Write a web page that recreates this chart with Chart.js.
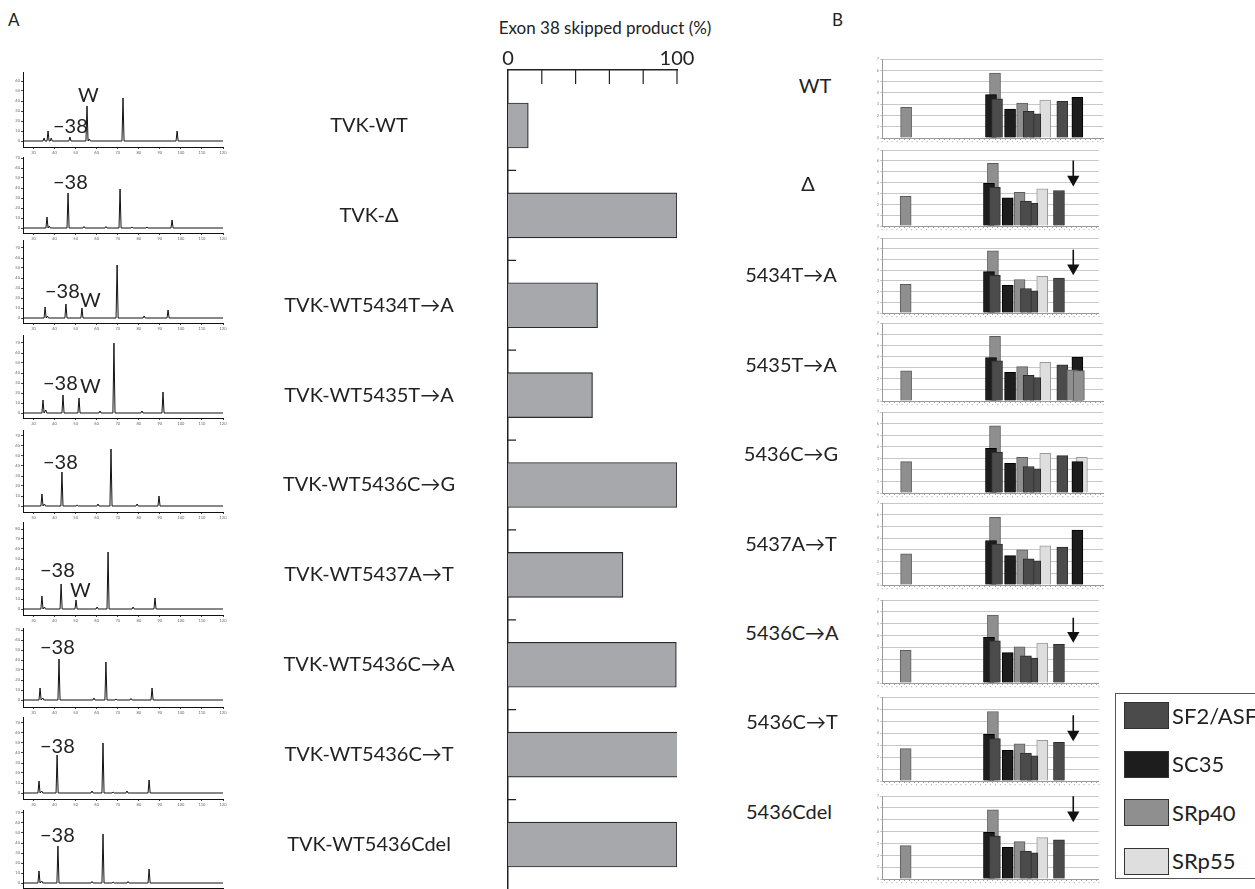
<!DOCTYPE html>
<html>
<head>
<meta charset="utf-8">
<title>Exon 38 skipping and ESE scores</title>
<script src="https://cdn.jsdelivr.net/npm/chart.js@4.4.0/dist/chart.umd.min.js"></script>
<style>
  body { margin: 0; background: #fff; }
  #page { position: relative; width: 1255px; height: 889px; overflow: hidden; background: #fff;
          font-family: Lato, 'Noto Sans', 'DejaVu Sans', sans-serif; color: #222; }
  #page canvas { position: absolute; }
  .txt { position: absolute; white-space: nowrap; line-height: 1; transform: translateY(-50%); }
  .txt.mid { transform: translate(-50%, -50%); }
  #legend { position: absolute; left: 1115px; top: 693px; width: 150px; height: 186px; border: 1px solid #555; box-sizing: border-box; }
  .sw { position: absolute; left: 8px; width: 45px; height: 27px; box-sizing: border-box; border: 1px solid #333; }
</style>
</head>
<body>
<div id="page"></div>
<script>
// ---- panel A, bar chart: exon 38 skipped product (%)
const constructs = ['TVK-WT', 'TVK-\u0394', 'TVK-WT5434T\u2192A', 'TVK-WT5435T\u2192A', 'TVK-WT5436C\u2192G',
                    'TVK-WT5437A\u2192T', 'TVK-WT5436C\u2192A', 'TVK-WT5436C\u2192T', 'TVK-WT5436Cdel'];
const skipped = [12, 100, 53, 50, 100, 68, 99.6, 100.6, 100];
const skipTicks = [0, 100];

// ---- panel A, electropherograms: peaks as [size, height]
const traceWT = [[35.0, 3], [36.9, 10], [38.4, 3], [47.3, 4], [55.4, 35], [56.5, 2], [72.5, 43], [98.2, 10]];
const traceDelta = [[36.4, 11], [37.5, 2], [46.4, 35], [54.0, 1.5], [64.4, 1.5], [71.1, 39], [76.8, 1], [83.9, 1], [95.8, 8]];
const trace5434 = [[35.5, 11], [36.6, 2], [45.4, 14], [53.0, 10], [69.7, 53], [82.5, 2], [93.9, 8]];
const trace5435 = [[34.5, 13], [35.8, 3], [44.0, 18], [51.6, 15], [61.6, 2], [68.2, 70], [81.5, 2], [91.5, 21]];
const trace5436G = [[34.0, 12], [35.2, 2], [43.5, 34], [50.7, 1], [60.6, 2], [66.8, 57], [79.2, 2], [89.6, 10]];
const trace5437T = [[34.0, 13], [35.2, 2], [43.1, 25], [50.2, 9], [60.2, 2], [65.4, 57], [77.3, 2], [87.7, 11]];
const trace5436A = [[33.1, 12], [34.4, 2], [42.1, 41], [58.7, 2], [64.4, 38], [69.2, 1], [76.3, 1.5], [86.3, 12]];
const trace5436T = [[32.6, 12], [33.9, 2], [41.2, 38], [57.8, 2], [63.0, 50], [67.8, 1], [74.4, 2], [84.9, 13]];
const trace5436del = [[32.6, 12], [33.9, 2], [41.6, 37], [57.8, 1.5], [63.0, 49], [67.8, 1], [74.9, 1.5], [84.9, 14]];
const traces = [traceWT, traceDelta, trace5434, trace5435, trace5436G, trace5437T, trace5436A, trace5436T, trace5436del];

// ---- panel B: ESE scores per construct (rows follow bLabels)
const bLabels = ['WT', '\u0394', '5434T\u2192A', '5435T\u2192A', '5436C\u2192G', '5437A\u2192T', '5436C\u2192A', '5436C\u2192T', '5436Cdel'];
const factors = ['SF2/ASF', 'SC35', 'SRp40', 'SRp55'];
const sf2Pos = [22.9, 30.5, 29.2, 35.9];
const sf2Scores = [
  [3.48, 2.15, 2.36, 3.25], [3.57, 2.08, 2.29, 3.27], [3.51, 2.08, 2.29, 3.27],
  [3.60, 2.10, 2.31, 3.24], [3.51, 2.09, 2.29, 3.23], [3.49, 2.06, 2.23, 3.23],
  [3.56, 2.10, 2.29, 3.26], [3.53, 2.10, 2.32, 3.23], [3.62, 2.20, 2.36, 3.30]];
const sc35Pos = [21.7, 25.5, 38.9];
const sc35Scores = [
  [3.84, 2.57, 3.60], [3.93, 2.59, null], [3.87, 2.59, null],
  [3.90, 2.58, 3.94], [3.86, 2.57, 2.71], [3.80, 2.51, 4.69],
  [3.85, 2.56, null], [3.90, 2.56, null], [3.94, 2.68, null]];
const srp40Pos = [4.8, 22.5, 27.9, 37.9, 39.2];
const srp40Scores = [
  [2.71, 5.76, 3.10, null, null], [2.74, 5.77, 3.10, null, null], [2.68, 5.80, 3.13, null, null],
  [2.70, 5.80, 3.09, 2.79, 2.73], [2.71, 5.80, 3.09, null, null], [2.66, 5.77, 3.00, null, null],
  [2.75, 5.74, 3.05, null, null], [2.70, 5.80, 3.10, null, null], [2.82, 5.84, 3.16, null, null]];
const srp55Pos = [32.5, 39.8];
const srp55Scores = [
  [3.37, null], [3.42, null], [3.42, null], [3.48, null], [3.43, 3.09],
  [3.34, null], [3.37, null], [3.40, null], [3.49, null]];
// lost-site arrows: shaft from / to (score units)
const arrowFrom = [null, 6.04, 5.92, null, null, null, 5.51, 5.48, 6.99];
const arrowTo = [null, 4.30, 4.20, null, null, null, 4.00, 3.90, 5.40];
const arrowPos = 38.8;

// ---- layout
const fontFamily = "Lato, 'Noto Sans', 'DejaVu Sans', sans-serif";
const traceBoxes = [[72, 141, 147], [157, 228, 233], [240, 318, 323], [335, 413, 418], [430, 506, 512],
                    [522, 609, 615], [628, 700, 707], [717, 793, 799], [810, 883, 888]];
const traceNotes = [
  [['W', 78, 93.5], ['\u221238', 53, 124.5]],
  [['\u221238', 53, 180.5]],
  [['\u221238', 45, 289.5], ['W', 80, 298.5]],
  [['\u221238', 43, 381.5], ['W', 80, 385]],
  [['\u221238', 43, 460.5]],
  [['\u221238', 40, 568.5], ['W', 70, 589]],
  [['\u221238', 40, 645.5]],
  [['\u221238', 40, 744.5]],
  [['\u221238', 40, 833.5]]];
const bBoxes = [[59, 138], [147, 226], [235, 313], [323, 401], [412, 493], [503, 585], [597, 683], [694, 781], [793, 879]];
const bLabelPos = [[815, 85], [808, 183], [791, 274], [791, 364], [791, 453], [791, 543], [792, 632], [792, 721], [789, 811]];
const colors = {
  'SF2/ASF': ['#4b4b4b', '#2c2c2c'],
  'SC35': ['#1d1d1d', '#000000'],
  'SRp40': ['#8f8f8f', '#5c5c5c'],
  'SRp55': ['#dedede', '#9a9a9a']
};

Chart.defaults.font.family = fontFamily;
Chart.defaults.color = '#222';
Chart.defaults.animation = false;
Chart.defaults.responsive = false;
Chart.defaults.plugins.legend.display = false;
Chart.defaults.plugins.tooltip.enabled = false;

const page = document.getElementById('page');

function addCanvas(left, top, width, height) {
  const c = document.createElement('canvas');
  c.width = width; c.height = height;
  c.style.left = left + 'px'; c.style.top = top + 'px';
  c.style.width = width + 'px'; c.style.height = height + 'px';
  page.appendChild(c);
  return c;
}

function addText(str, x, y, size, centered) {
  const d = document.createElement('div');
  d.className = centered ? 'txt mid' : 'txt';
  d.textContent = str;
  d.style.left = x + 'px'; d.style.top = y + 'px'; d.style.fontSize = size + 'px';
  page.appendChild(d);
  return d;
}

// scales keep their own edge padding out of the layout
const noPad = s => { s.paddingLeft = 0; s.paddingRight = 0; s.paddingTop = 0; s.paddingBottom = 0; };

addText('A', 8, 19, 17);
addText('B', 832, 19, 17);
addText('Exon 38 skipped product (%)', 605, 27, 17, true);

// electropherograms
traces.forEach((peaks, i) => {
  const [top, base, axis] = traceBoxes[i];
  const c = addCanvas(0, top - 4, 228, axis - top + 14);
  const pts = [{x: 25, y: 0}];
  peaks.forEach(([x, h]) => { pts.push({x: x - 0.5, y: 0}, {x: x, y: h}, {x: x + 0.5, y: 0}); });
  pts.push({x: 120, y: 0});
  new Chart(c, {
    type: 'line',
    data: { datasets: [{ data: pts, borderColor: '#111', borderWidth: 1, pointRadius: 0, tension: 0 }] },
    options: {
      layout: { padding: { top: 4, right: 5, left: 0, bottom: 0 } },
      scales: {
        x: { type: 'linear', min: 25, max: 120,
             afterFit: s => { noPad(s); s.height = 10; },
             ticks: { stepSize: 10, includeBounds: false, font: { size: 4 }, color: '#666', padding: 1, maxRotation: 0, autoSkip: false },
             grid: { drawOnChartArea: false, tickLength: 2, color: '#444' },
             border: { color: '#111' } },
        y: { min: -(axis - base), max: base - top,
             afterFit: s => { noPad(s); s.width = 23; },
             ticks: { stepSize: 10, includeBounds: false, font: { size: 4 }, color: '#666', padding: 1 },
             grid: { drawOnChartArea: false, tickLength: 2, color: '#444' },
             border: { color: '#111' } }
      }
    }
  });
  traceNotes[i].forEach(([s, x, y]) => addText(s, x, y, 20));
});

// skipped product bar chart
const measure = document.createElement('canvas').getContext('2d');
measure.font = 'normal 20px ' + fontFamily;
const widest = Math.max(...constructs.map(s => measure.measureText(s).width));

const innerTicks = {
  id: 'innerTicks',
  afterDraw(chart) {
    const { ctx, chartArea, scales: { x, y } } = chart;
    ctx.save();
    ctx.strokeStyle = '#222';
    ctx.lineWidth = 1.2;
    ctx.beginPath();
    x.ticks.forEach(t => {
      if (t.value > 0) {
        const px = x.getPixelForValue(t.value);
        ctx.moveTo(px, chartArea.top);
        ctx.lineTo(px, chartArea.top + 14);
      }
    });
    for (let i = 0; i < constructs.length - 1; i++) {
      const py = y.getPixelForValue(i + 0.5);
      ctx.moveTo(chartArea.left, py);
      ctx.lineTo(chartArea.left + 8, py);
    }
    ctx.stroke();
    ctx.restore();
  }
};

new Chart(addCanvas(250, 35, 447, 854), {
  type: 'bar',
  data: {
    datasets: [{
      data: skipped.map((v, i) => ({ x: v, y: i })),
      backgroundColor: '#a7a8ab', borderColor: '#2b2b2b', borderWidth: 1.2,
      barThickness: 45
    }]
  },
  options: {
    indexAxis: 'y',
    layout: { padding: { left: 0, right: 20, top: 0, bottom: 0 } },
    scales: {
      x: { type: 'linear', position: 'top', min: 0, max: 100, offset: false,
           afterFit: s => { noPad(s); s.height = 35; },
           ticks: { stepSize: 20, padding: -9, maxRotation: 0, autoSkip: false, font: { size: 20 }, color: '#222',
                    callback: v => skipTicks.includes(v) ? String(v) : '' },
           grid: { display: false },
           border: { display: true, color: '#222', width: 1.5 } },
      y: { type: 'linear', reverse: true, min: -0.6175, max: 8.495, offset: false,
           afterFit: s => { noPad(s); s.width = 258; },
           ticks: { stepSize: 1, includeBounds: false, autoSkip: false, crossAlign: 'center',
                    padding: 508 - 377 - widest / 2, font: { size: 20 }, color: '#222',
                    callback: v => constructs[v] !== undefined ? constructs[v] : '' },
           grid: { display: false },
           border: { display: true, color: '#222', width: 1.5 } }
    }
  },
  plugins: [innerTicks]
});

// ESE score panels
function bars(label, pos, vals, order) {
  return {
    type: 'bar', label: label, order: order, grouped: false, barThickness: 11,
    backgroundColor: colors[label][0], borderColor: colors[label][1], borderWidth: 1,
    data: pos.map((p, k) => ({ x: p, y: vals[k] })).filter(d => d.y !== null)
  };
}

bLabels.forEach((name, i) => {
  const [top, base] = bBoxes[i];
  const datasets = [
    bars('SF2/ASF', sf2Pos, sf2Scores[i], 0),
    bars('SC35', sc35Pos, sc35Scores[i], 1),
    bars('SRp40', srp40Pos.slice(0, 3), srp40Scores[i].slice(0, 3), 2),
    bars('SRp40', srp40Pos.slice(3), srp40Scores[i].slice(3), -1),
    bars('SRp55', srp55Pos, srp55Scores[i], 3)
  ];
  if (arrowFrom[i] !== null) {
    datasets.push({
      type: 'line', order: -2,
      data: [{ x: arrowPos, y: arrowFrom[i] }, { x: arrowPos, y: arrowTo[i] }],
      borderColor: '#111', borderWidth: 1.6,
      pointRadius: [0, 5.5], pointStyle: 'triangle', rotation: 180,
      pointBackgroundColor: '#111', pointBorderColor: '#111'
    });
  }
  new Chart(addCanvas(862, top - 4, 244, base - top + 12), {
    type: 'bar',
    data: { datasets: datasets },
    options: {
      layout: { padding: { top: 4, right: 3, left: 0, bottom: 0 } },
      scales: {
        x: { type: 'linear', min: 0, max: 44, offset: false,
             afterFit: s => { noPad(s); s.height = 8; },
             ticks: { stepSize: 1, autoSkip: false, font: { size: 3 }, color: '#b5b5b5', padding: 0, maxRotation: 0,
                      callback: () => '\u2022' },
             grid: { drawOnChartArea: false, tickLength: 2, color: '#a5a5a5' },
             border: { color: '#9a9a9a' } },
        y: { min: 0, max: 7,
             afterFit: s => { noPad(s); s.width = 20; },
             ticks: { stepSize: 1, font: { size: 4 }, color: '#888', padding: 1 },
             grid: { color: '#c8c8c8', tickLength: 2 },
             border: { color: '#9a9a9a' } }
      }
    }
  });
  addText(name, bLabelPos[i][0], bLabelPos[i][1], 20, true);
});

// legend
const legend = document.createElement('div');
legend.id = 'legend';
factors.forEach((f, k) => {
  const sw = document.createElement('div');
  sw.className = 'sw';
  sw.style.top = (8 + k * 48.5) + 'px';
  sw.style.background = colors[f][0];
  legend.appendChild(sw);
  const t = document.createElement('div');
  t.className = 'txt';
  t.textContent = f;
  t.style.left = '56px';
  t.style.top = (21.5 + k * 48.5) + 'px';
  t.style.fontSize = '22px';
  legend.appendChild(t);
});
page.appendChild(legend);
</script>
</body>
</html>
